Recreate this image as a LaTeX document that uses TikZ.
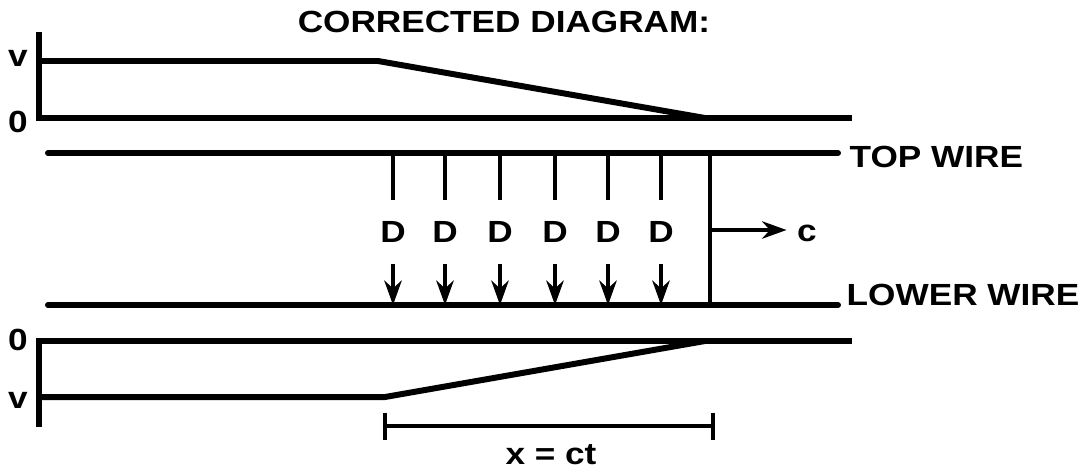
\documentclass[tikz,border=0pt]{standalone}
\usepackage{fontspec}
\setmainfont{Liberation Sans}
\newfontfamily\widefont[FakeStretch=1.15]{Liberation Sans}
\usepackage{tikz}
\usetikzlibrary{positioning, calc, arrows.meta}

\begin{document}
\begin{tikzpicture}[x=0.01cm, y=-0.01cm,
    wire/.style={line width=1.7pt, line cap=round},
    axis/.style={line width=1.7pt},
    darrow/.style={line width=0.9pt, -{Stealth[length=7pt, width=5pt]}},
    lbl/.style={font=\widefont\fontsize{8.7}{10}\selectfont\bfseries, inner sep=0pt},
  ]
  \useasboundingbox (0,0) rectangle (1088,469);
  % title
  \node[lbl] (title) at (504,22) {CORRECTED DIAGRAM:};
  % upper voltage graph
  \coordinate (ua) at (39,32);
  \coordinate (uo) at (39,118);
  \coordinate (uv) at (39,61);
  \coordinate (uk) at (378,61);
  \coordinate (uz) at (705,118);
  \coordinate (ue) at (852,118);
  \draw[axis] (ua) -- (uo) -- (ue);
  \draw[axis, line join=bevel] (uv) -- (uk) -- (uz);
  \node[lbl] (uvl) at (18,58) {v};
  \node[lbl] (uol) at (18,122) {0};
  % wires
  \coordinate (tw0) at (48,153);
  \coordinate (tw1) at (838,153);
  \coordinate (lw0) at (48,305);
  \coordinate (lw1) at (838,305);
  \draw[wire] (tw0) -- (tw1);
  \draw[wire] (lw0) -- (lw1);
  \node[lbl, anchor=west] (twl) at (849,157) {TOP WIRE};
  \node[lbl, anchor=west] (lwl) at (846,295) {LOWER WIRE};
  % D arrows
  \foreach \i/\x in {1/393, 2/445, 3/500, 4/555, 5/608, 6/661} {
    \node[lbl, inner sep=6pt] (d\i) at (\x,232) {D};
    \draw[line width=0.9pt] (d\i |- tw0) -- (d\i.north);
    \draw[darrow] (d\i.south) -- (d\i |- lw0);
  }
  % wave front
  \coordinate (ft) at (710,153);
  \coordinate (fb) at (710,305);
  \coordinate (fm) at (710,230);
  \draw[line width=1.2pt] (ft) -- (fb);
  \node[lbl] (cl) at (807,233) {c};
  \draw[darrow] (fm) -- ($(fm -| cl.west)+(-10,0)$);
  % lower voltage graph
  \coordinate (lo) at (39,341);
  \coordinate (la) at (39,427);
  \coordinate (lv) at (39,397);
  \coordinate (lk) at (385,397);
  \coordinate (lz) at (705,341);
  \coordinate (le) at (852,341);
  \draw[axis] (le) -- (lo) -- (la);
  \draw[axis, line join=bevel] (lv) -- (lk) -- (lz);
  \node[lbl] (lol) at (18,340) {0};
  \node[lbl] (lvl) at (18,400) {v};
  % distance bar
  \coordinate (b0) at (385,426);
  \coordinate (b1) at (713,426);
  \draw[line width=1.2pt] (b0) -- (b1);
  \draw[line width=1.2pt] ($(b0)+(0,-13)$) -- ($(b0)+(0,14)$);
  \draw[line width=1.2pt] ($(b1)+(0,-13)$) -- ($(b1)+(0,14)$);
  \node[lbl] (xl) at (551,455) {x = ct};
\end{tikzpicture}
\end{document}
